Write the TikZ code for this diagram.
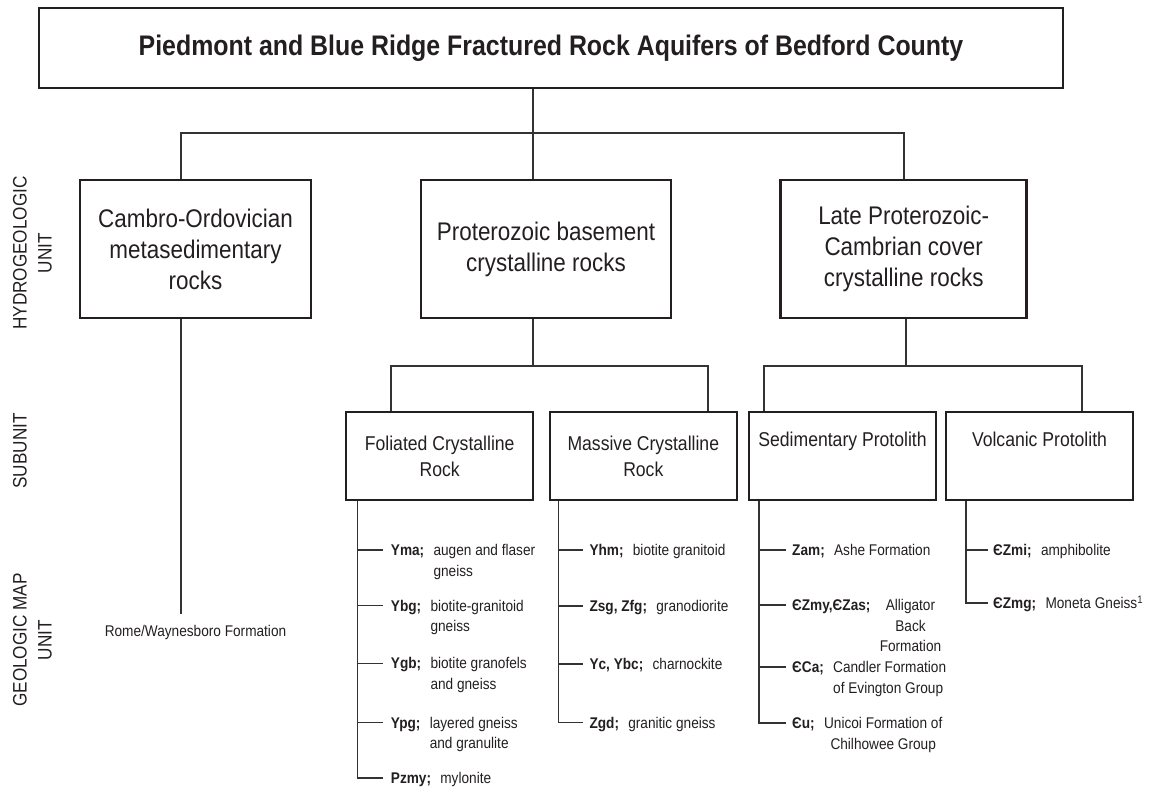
\documentclass[tikz,border=0pt]{standalone}
\usepackage{fontspec}
\setmainfont{Liberation Sans}[FakeStretch=0.88]
\usepackage{tikz}
\usetikzlibrary{positioning}

\definecolor{inkline}{HTML}{231F20}
\definecolor{linkgray}{HTML}{333333}

% code in bold, then the description as a small top-aligned column
\newcommand{\maprow}[3][l]{\textbf{#2;}\hspace{0.6em}\begin{tabular}[t]{@{}#1@{}}#3\end{tabular}}

\begin{document}
\begin{tikzpicture}[x=1pt, y=-1pt, text=inkline,
  bigbox/.style={draw=inkline, line width=2.5pt, minimum height=138pt, align=center, inner sep=0pt, font=\fontsize{25.5}{31}\selectfont},
  subbox/.style={draw=inkline, line width=2.5pt, minimum height=88pt, minimum width=187pt, align=center, inner sep=0pt, font=\fontsize{20}{26}\selectfont},
  link/.style={draw=linkgray, line width=1.1pt},
  maplabel/.style={anchor=base west, inner sep=0pt, font=\fontsize{15.5}{20.5}\selectfont},
  sidelabel/.style={rotate=90, align=center, inner sep=0pt, font=\fontsize{19.5}{25}\selectfont}]

\useasboundingbox (0,0) rectangle (1152,788);

% Levels (pixel rows of the chart):
\def\ybar{133}
\def\ysub{366}
% Trunks of the map-unit lists:
\def\xfol{357.7}
\def\xmas{558.3}
\def\xsed{759}
\def\xvol{966}

%--- Title box ---
\node[draw=inkline, line width=2.5pt, minimum width=1024pt, minimum height=80pt,
      font=\bfseries\fontsize{28.3}{34}\selectfont] (title) at (551,48)
      {Piedmont and Blue Ridge Fractured Rock Aquifers of Bedford County};

%--- Row labels on the left ---
\node[sidelabel] (hydlab) at (32.5,253) {HYDROGEOLOGIC\\UNIT};
\node[sidelabel] (sublab) at (20,451) {SUBUNIT};
\node[sidelabel] (maplab) at (32.5,640) {GEOLOGIC MAP\\UNIT};

%--- Hydrogeologic units ---
\node[bigbox, minimum width=231pt] (cambro) at (195.5,249) {Cambro-Ordovician\\metasedimentary\\rocks};
\node[bigbox, minimum width=250pt] (basement) at (546,249) {Proterozoic basement\\crystalline rocks};
\node[bigbox, minimum width=246pt] (cover) at (903.7,249) {Late Proterozoic-\\Cambrian cover\\crystalline rocks};

\coordinate (jc) at (181,\ybar);
\coordinate (jb) at (533,\ybar);
\coordinate (jv) at (904,\ybar);
\draw[link] (title.south -| jb) -- (jb);
\draw[link] (cambro.north -| jc) -- (jc) -- (jv) -- (cover.north -| jv);
\draw[link] (jb) -- (basement.north -| jb);

%--- Subunits ---
\node[subbox] (fol) at (439.7,456) {Foliated Crystalline\\Rock};
\node[subbox] (mas) at (643.3,456) {Massive Crystalline\\Rock};
\node[subbox] (sed) at (842.5,456) {Sedimentary Protolith\\\strut};
\node[subbox] (vol) at (1039.5,456) {Volcanic Protolith\\\strut};

\coordinate (jf) at (391,\ysub);
\coordinate (jm) at (708,\ysub);
\coordinate (js) at (764,\ysub);
\coordinate (jo) at (1082,\ysub);
\coordinate (jd) at (906,\ysub);
\draw[link] (basement.south -| jb) -- (jb |- jf);
\draw[link] (fol.north -| jf) -- (jf) -- (jm) -- (mas.north -| jm);
\draw[link] (cover.south -| jd) -- (jd);
\draw[link] (sed.north -| js) -- (js) -- (jo) -- (vol.north -| jo);

%--- Cambro-Ordovician: single map unit ---
\coordinate (jr) at (181,614);
\node[font=\fontsize{15.5}{19}\selectfont] (rome) at (195.5,632) {Rome/Waynesboro Formation};
\draw[link] (cambro.south -| jc) -- (jr);

%--- Foliated crystalline rock ---
\coordinate (ft) at (\xfol,500);
\coordinate (yma-t) at (\xfol+25,550);
\coordinate (ybg-t) at (\xfol+25,605.7);
\coordinate (ygb-t) at (\xfol+25,663.3);
\coordinate (ypg-t) at (\xfol+25,722.7);
\coordinate (pzmy-t) at (\xfol+25,778);
\node[maplabel] (yma) at ([xshift=8pt,yshift=-5.5pt]yma-t) {\maprow{Yma}{augen and flaser\\gneiss}};
\node[maplabel] (ybg) at ([xshift=8pt,yshift=-5.5pt]ybg-t) {\maprow{Ybg}{biotite-granitoid\\gneiss}};
\node[maplabel] (ygb) at ([xshift=8pt,yshift=-5.5pt]ygb-t) {\maprow{Ygb}{biotite granofels\\and gneiss}};
\node[maplabel] (ypg) at ([xshift=8pt,yshift=-5.5pt]ypg-t) {\maprow{Ypg}{layered gneiss\\and granulite}};
\node[maplabel] (pzmy) at ([xshift=8pt,yshift=-5.5pt]pzmy-t) {\maprow{Pzmy}{mylonite}};
\draw[link] (fol.south -| ft) |- (pzmy-t);
\draw[link] (yma-t -| ft) -- (yma-t);
\draw[link] (ybg-t -| ft) -- (ybg-t);
\draw[link] (ygb-t -| ft) -- (ygb-t);
\draw[link] (ypg-t -| ft) -- (ypg-t);

%--- Massive crystalline rock ---
\coordinate (mt) at (\xmas,500);
\coordinate (yhm-t) at (\xmas+25,550);
\coordinate (zsg-t) at (\xmas+25,606);
\coordinate (yc-t) at (\xmas+25,664);
\coordinate (zgd-t) at (\xmas+25,722.7);
\node[maplabel] (yhm) at ([xshift=6pt,yshift=-5.5pt]yhm-t) {\maprow{Yhm}{biotite granitoid}};
\node[maplabel] (zsg) at ([xshift=6pt,yshift=-5.5pt]zsg-t) {\maprow{Zsg, Zfg}{granodiorite}};
\node[maplabel] (yc) at ([xshift=6pt,yshift=-5.5pt]yc-t) {\maprow{Yc, Ybc}{charnockite}};
\node[maplabel] (zgd) at ([xshift=6pt,yshift=-5.5pt]zgd-t) {\maprow{Zgd}{granitic gneiss}};
\draw[link] (mas.south -| mt) |- (zgd-t);
\draw[link] (yhm-t -| mt) -- (yhm-t);
\draw[link] (zsg-t -| mt) -- (zsg-t);
\draw[link] (yc-t -| mt) -- (yc-t);

%--- Sedimentary protolith ---
\coordinate (st) at (\xsed,500);
\coordinate (zam-t) at (\xsed+27,550);
\coordinate (ezmy-t) at (\xsed+27,605);
\coordinate (eca-t) at (\xsed+27,667);
\coordinate (eu-t) at (\xsed+27,723);
\node[maplabel] (zam) at ([xshift=6pt,yshift=-5.5pt]zam-t) {\maprow{Zam}{Ashe Formation}};
\node[maplabel] (ezmy) at ([xshift=6pt,yshift=-5.5pt]ezmy-t) {\maprow[c]{ЄZmy,ЄZas}{Alligator\\Back\\Formation}};
\node[maplabel] (eca) at ([xshift=6pt,yshift=-5.5pt]eca-t) {\maprow{ЄCa}{Candler Formation\\of Evington Group}};
\node[maplabel] (eu) at ([xshift=6pt,yshift=-5.5pt]eu-t) {\maprow[c]{Єu}{Unicoi Formation of\\Chilhowee Group}};
\draw[link] (sed.south -| st) |- (eu-t);
\draw[link] (zam-t -| st) -- (zam-t);
\draw[link] (ezmy-t -| st) -- (ezmy-t);
\draw[link] (eca-t -| st) -- (eca-t);

%--- Volcanic protolith ---
\coordinate (vt) at (\xvol,500);
\coordinate (ezmi-t) at (\xvol+22,550);
\coordinate (ezmg-t) at (\xvol+22,603);
\node[maplabel] (ezmi) at ([xshift=5pt,yshift=-5.5pt]ezmi-t) {\maprow{ЄZmi}{amphibolite}};
\node[maplabel] (ezmg) at ([xshift=5pt,yshift=-5.5pt]ezmg-t) {\maprow{ЄZmg}{Moneta Gneiss\textsuperscript{1}}};
\draw[link] (vol.south -| vt) |- (ezmg-t);
\draw[link] (ezmi-t -| vt) -- (ezmi-t);

\end{tikzpicture}
\end{document}
